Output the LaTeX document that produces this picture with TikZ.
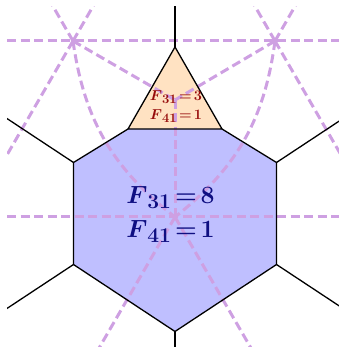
\documentclass[tikz,border=0pt]{standalone}
\usepackage{amsmath}
\definecolor{dualcol}{RGB}{206,160,226}
\definecolor{tricol}{RGB}{255,226,194}
\definecolor{hexcol}{RGB}{191,191,255}
\definecolor{redtxt}{RGB}{150,10,10}
\definecolor{bluetxt}{RGB}{15,15,130}
\newcommand{\flabel}[4]{{\fontsize{#1}{#1}\selectfont\boldmath\thickmuskip=2.5mu$F\raisebox{-0.18em}{\fontsize{#2}{#2}\selectfont\bfseries #3}=#4$}}
\begin{document}
\begin{tikzpicture}[x=1pt,y=1pt,
  tline/.style={black,line width=1.3pt,line join=round},
  dual/.style={dualcol,line width=3pt,dash pattern=on 9pt off 4.5pt},
  smalllbl/.style={text=redtxt,inner sep=0pt},
  biglbl/.style={text=bluetxt,inner sep=0pt}]
\useasboundingbox (0,0) rectangle (339,350);
% lattice points
\coordinate (A) at (73,309);
\coordinate (B) at (275,309);
\coordinate (C) at (175,133);
\coordinate (T) at (175,250);
\coordinate (AUL) at (13,413);
\coordinate (AUR) at (133,413);
\coordinate (L) at (-29,133);
\coordinate (BUL) at (215,413);
\coordinate (BUR) at (335,413);
\coordinate (R) at (377,133);
\coordinate (CDL) at (73,-43);
\coordinate (CDR) at (277,-43);
\coordinate (HL1) at (-20,309);
\coordinate (HR1) at (360,309);
\coordinate (HL2) at (-20,133);
\coordinate (HR2) at (360,133);
% tropical curve vertices
\coordinate (P0) at (175,303);
\coordinate (P1) at (128,221);
\coordinate (P2) at (222,221);
\coordinate (H1) at (73.5,187.5);
\coordinate (H2) at (276.5,187.5);
\coordinate (H3) at (73.5,85.5);
\coordinate (H4) at (276.5,85.5);
\coordinate (H5) at (175,18.5);
\coordinate (E0) at (175,370);
\coordinate (E1) at (-38.5,261.5);
\coordinate (E2) at (388.5,261.5);
\coordinate (E3) at (-38.5,11.5);
\coordinate (E4) at (388.5,11.5);
\coordinate (E5) at (175,-20);
\begin{scope}
\clip (7,3) rectangle (339,343);
\fill[tricol] (P0) -- (P1) -- (P2) -- cycle;
\fill[hexcol] (P1) -- (P2) -- (H2) -- (H4) -- (H5) -- (H3) -- (H1) -- cycle;
% dual subdivision
\draw[dual] (HL1) -- (HR1);
\draw[dual] (HL2) -- (HR2);
\draw[dual] (A) -- (T);
\draw[dual] (B) -- (T);
\draw[dual] (T) -- (C);
\draw[dual] (A) to[bend right=22] (C);
\draw[dual] (B) to[bend left=22] (C);
\draw[dual] (A) -- (AUL);
\draw[dual] (A) -- (AUR);
\draw[dual] (A) -- (L);
\draw[dual] (B) -- (BUL);
\draw[dual] (B) -- (BUR);
\draw[dual] (B) -- (R);
\draw[dual] (C) -- (CDL);
\draw[dual] (C) -- (CDR);
% tropical curve
\draw[tline] (P0) -- (P1) -- (P2) -- cycle;
\draw[tline] (P1) -- (H1) -- (H3) -- (H5) -- (H4) -- (H2) -- (P2);
\draw[tline] (P0) -- (E0);
\draw[tline] (H1) -- (E1);
\draw[tline] (H2) -- (E2);
\draw[tline] (H3) -- (E3);
\draw[tline] (H4) -- (E4);
\draw[tline] (H5) -- (E5);
\end{scope}
\node[smalllbl,anchor=base] (s1) at (176,249) {\flabel{14}{13}{31}{3}};
\node[smalllbl,anchor=base] (s2) at (176,230) {\flabel{14}{13}{41}{1}};
\node[biglbl,anchor=base] (b1) at (170.5,146) {\flabel{23}{21}{31}{8}};
\node[biglbl,anchor=base] (b2) at (170.5,112) {\flabel{23}{21}{41}{1}};
\end{tikzpicture}
\end{document}
